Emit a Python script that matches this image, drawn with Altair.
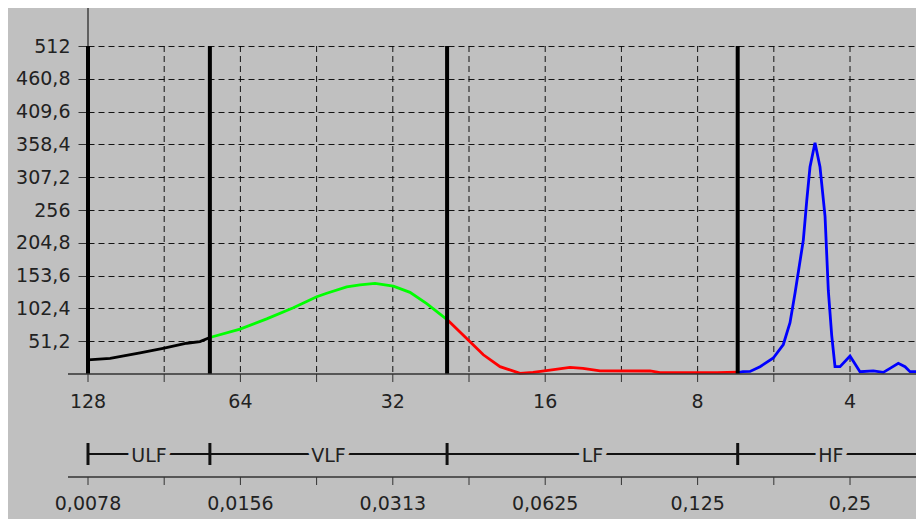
import altair as alt
import pandas as pd
import numpy as np

# ---- spectrum values (frequency in Hz, power) ----
ulf_freq = [0.00781, 0.00864, 0.0099, 0.01099, 0.01224, 0.0130, 0.0136]
ulf_power = [22, 24.5, 33, 40, 48, 50.5, 57]

vlf_freq = [0.0136, 0.0156, 0.01761, 0.01988, 0.02211, 0.02314, 0.02534,
            0.02692, 0.02882, 0.03132, 0.03379, 0.03646, 0.04]
vlf_power = [57, 70, 86, 103.5, 120.7, 126, 136, 139, 141.6, 137, 127.5, 110, 85]

lf_freq = [0.04, 0.0444, 0.04717, 0.05089, 0.05574, 0.05912, 0.06388, 0.06996,
           0.07422, 0.0802, 0.1007, 0.10535, 0.13655, 0.15]
lf_power = [85, 50.5, 30, 11.5, 1, 2.5, 6, 10.4, 8.8, 5, 4.7, 2, 2, 3]

hf_freq = [0.15, 0.15367, 0.15865, 0.16603, 0.17638, 0.18458, 0.19029, 0.19466,
           0.20217, 0.2053, 0.2084, 0.2132, 0.21811, 0.22316, 0.22652, 0.23005,
           0.2335, 0.23888, 0.25, 0.26161, 0.27795, 0.29088, 0.29988, 0.3114,
           0.32107, 0.32843, 0.35]
hf_power = [2, 3.6, 4, 11.4, 25, 46, 80, 126, 209, 270, 323, 361, 323, 246, 130,
            60, 11.4, 11.4, 28, 3.6, 5, 2.6, 8.8, 16.7, 11.4, 3.6, 3.6]

band_names = ["ULF", "VLF", "LF", "HF"]
band_colors = ["#000000", "#00FF00", "#FF0000", "#0000FF"]
band_start = [0.0078125, 0.0136, 0.04, 0.15]
band_end = [0.0136, 0.04, 0.15, 0.35]

half_octaves = [0.0078125, 0.011048543, 0.015625, 0.022097087, 0.03125,
                0.044194174, 0.0625, 0.088388348, 0.125, 0.176776695, 0.25]
octaves = [0.0078125, 0.015625, 0.03125, 0.0625, 0.125, 0.25]
period_labels = ["128", "64", "32", "16", "8", "4"]
freq_labels = ["0,0078", "0,0156", "0,0313", "0,0625", "0,125", "0,25"]
y_ticks = [51.2, 102.4, 153.6, 204.8, 256, 307.2, 358.4, 409.6, 460.8, 512]

# ---- tables ----
rows = []
for name, fr, pw in zip(band_names, [ulf_freq, vlf_freq, lf_freq, hf_freq],
                        [ulf_power, vlf_power, lf_power, hf_power]):
    for f, p in zip(fr, pw):
        rows.append({"freq": f, "power": p, "band": name})
curve = pd.DataFrame(rows)

bands = pd.DataFrame({"band": band_names, "start": band_start, "end": band_end})
bands["center"] = np.sqrt(bands["start"] * bands["end"])
ticks_df = pd.DataFrame({"f": half_octaves})
grid_df = pd.DataFrame({"f": half_octaves[1:]})
plabels_df = pd.DataFrame({"f": octaves, "label": period_labels})
flabels_df = pd.DataFrame({"f": octaves, "label": freq_labels})
one = pd.DataFrame({"f": [0.0078125]})

W, H = 828, 328
FONT = "DejaVu Sans"
FS = 19
TXT = "#222222"
BG = "#C0C0C0"

xscale = alt.Scale(type="log", base=2, domain=[0.0078125, 0.3375], nice=False, zero=False)
yscale = alt.Scale(domain=[0, 512], nice=False, zero=False)


def X(field):
    return alt.X(field, scale=xscale, axis=None)


y_axis = alt.Axis(values=y_ticks, tickCount=40,
                  labelExpr="replace(toString(datum.value), '.', ',')",
                  grid=True, gridDash=[6, 4], gridColor="#000000", gridOpacity=0.9,
                  domain=False, tickSize=10, tickColor="#333333", labelPadding=8,
                  labelFont=FONT, labelFontSize=FS, labelColor=TXT,
                  labelOverlap=False, labelBound=False, title=None)

# vertical dashed grid at every half octave
vgrid = alt.Chart(grid_df).mark_rule(color="#000000", opacity=0.9, strokeWidth=1,
                                     strokeDash=[6, 4]).encode(
    x=X("f:Q"), y=alt.YDatum(512, scale=yscale, axis=y_axis), y2=alt.Y2Datum(0))

lines = alt.Chart(curve).mark_line(strokeWidth=2.8).encode(
    x=X("freq:Q"),
    y=alt.Y("power:Q", scale=yscale, axis=y_axis),
    color=alt.Color("band:N", scale=alt.Scale(domain=band_names, range=band_colors),
                    legend=None),
)

thin_axis = alt.Chart(one).mark_rule(color="#000000", strokeWidth=1).encode(
    x=X("f:Q"), y=alt.value(-38), y2=alt.value(H))

boundaries = alt.Chart(bands).mark_rule(color="#000000", strokeWidth=4).encode(
    x=X("start:Q"), y=alt.YDatum(512, scale=yscale, axis=y_axis), y2=alt.Y2Datum(0))

# period (seconds) axis
period_line = alt.Chart(one).mark_rule(color="#333333", strokeWidth=1.5).encode(
    x=alt.value(-20), x2=alt.value(W), y=alt.value(H))
period_ticks = alt.Chart(ticks_df).mark_rule(color="#333333", strokeWidth=1).encode(
    x=X("f:Q"), y=alt.value(H), y2=alt.value(H + 8))
period_text = alt.Chart(plabels_df).mark_text(font=FONT, fontSize=FS, color=TXT,
                                              baseline="middle").encode(
    x=X("f:Q"), y=alt.value(356), text="label:N")

# band bar
band_line = alt.Chart(bands).mark_rule(color="#111111", strokeWidth=2).encode(
    x=X("start:Q"), x2="end:Q", y=alt.value(408))
band_ticks = alt.Chart(bands).mark_rule(color="#111111", strokeWidth=3).encode(
    x=X("start:Q"), y=alt.value(397), y2=alt.value(419))
band_halo = alt.Chart(bands).mark_text(font=FONT, fontSize=FS, fill=BG, stroke=BG,
                                       strokeWidth=9, baseline="middle").encode(
    x=X("center:Q"), y=alt.value(410), text="band:N")
band_text = alt.Chart(bands).mark_text(font=FONT, fontSize=FS, color=TXT,
                                       baseline="middle").encode(
    x=X("center:Q"), y=alt.value(410), text="band:N")

# frequency (Hz) axis
freq_line = alt.Chart(one).mark_rule(color="#333333", strokeWidth=1.5).encode(
    x=alt.value(-20), x2=alt.value(W), y=alt.value(431))
freq_ticks = alt.Chart(ticks_df).mark_rule(color="#333333", strokeWidth=1).encode(
    x=X("f:Q"), y=alt.value(431), y2=alt.value(439))
freq_text = alt.Chart(flabels_df).mark_text(font=FONT, fontSize=FS, color=TXT,
                                            baseline="middle").encode(
    x=X("f:Q"), y=alt.value(458), text="label:N")

chart = alt.layer(
    vgrid, lines, thin_axis, boundaries, period_line, period_ticks, period_text,
    band_line, band_ticks, band_halo, band_text, freq_line, freq_ticks, freq_text
).properties(
    width=W, height=H,
    autosize=alt.AutoSizeParams(type="none"),
    padding={"left": 80, "top": 38, "right": 0, "bottom": 145},
).configure(background=BG).configure_view(strokeWidth=0)

chart.save("out.html", embed_options={"renderer": "svg", "actions": False})
